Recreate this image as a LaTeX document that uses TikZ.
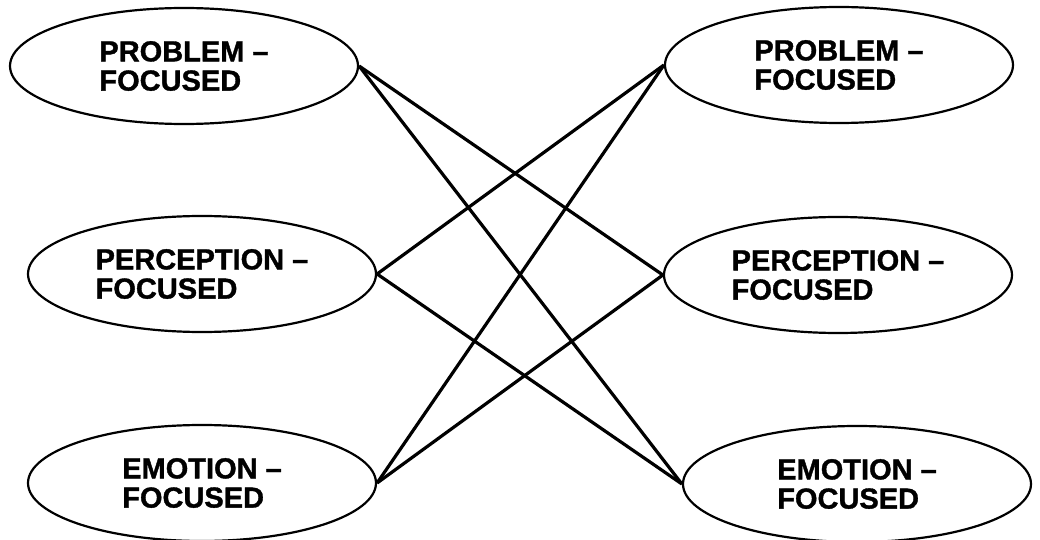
\documentclass[tikz,border=0pt]{standalone}
\usepackage{fontspec}
\setmainfont{Liberation Sans}
\newfontfamily\heavyfont{Liberation Sans}[UprightFont=*-Bold, FakeBold=1.2]
\usetikzlibrary{shapes.geometric}

\tikzset{
  coping/.style={ellipse, draw, line width=1.1pt, minimum width=174pt, minimum height=58pt,
    inner sep=0pt, align=left, font=\heavyfont\fontsize{14.5}{14.6}\selectfont},
  link/.style={line width=1.6pt}
}

\begin{document}
\begin{tikzpicture}[x=0.5pt, y=-0.5pt]
\useasboundingbox (0,0) rectangle (1040,540);
% Left column
\node[coping] (lprob) at (184,66) {PROBLEM –\\FOCUSED};
\node[coping] (lperc) at (202,274) {PERCEPTION –\\FOCUSED};
\node[coping] (lemo) at (202,483) {EMOTION –\\FOCUSED};
% Right column
\node[coping] (rprob) at (839,65) {PROBLEM –\\FOCUSED};
\node[coping] (rperc) at (838,275) {PERCEPTION –\\FOCUSED};
\node[coping] (remo) at (857,484) {EMOTION –\\FOCUSED};
% Each style on the left linked to the two other styles on the right
\draw[link] (lprob.east) -- (rperc.west);
\draw[link] (lprob.east) -- (remo.west);
\draw[link] (lperc.east) -- (rprob.west);
\draw[link] (lperc.east) -- (remo.west);
\draw[link] (lemo.east) -- (rprob.west);
\draw[link] (lemo.east) -- (rperc.west);
\end{tikzpicture}
\end{document}
